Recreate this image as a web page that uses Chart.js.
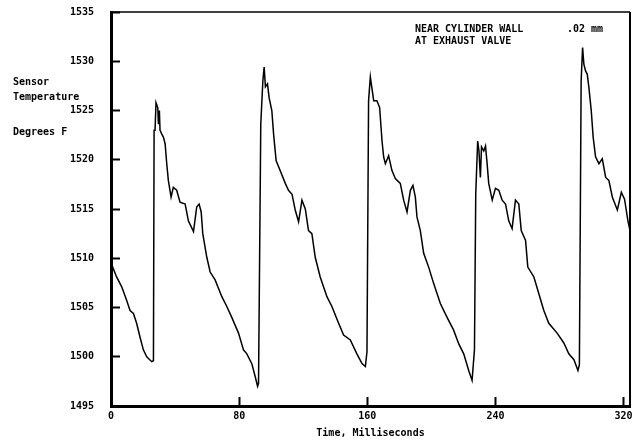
<!DOCTYPE html>
<html>
<head>
<meta charset="utf-8">
<script src="https://cdn.jsdelivr.net/npm/chart.js@4"></script>
<style>
  body { margin: 0; background: #fff; }
  #wrap { width: 632px; height: 443px; }
</style>
</head>
<body>
<div id="wrap"><canvas id="tempChart" width="632" height="443"></canvas></div>
<script>
// Tiempo (ms) y temperatura del sensor (°F)
const timeMs = [
  0.8, 3.5, 6.7, 9.8, 11.9, 14.0, 16.0, 18.1, 20.2, 22.3, 25.4, 26.5, 26.9, 27.5, 28.1, 29.2, 29.6, 30.2, 30.6,
  31.7, 32.7, 33.8, 34.8, 35.8, 37.5, 38.9, 41.0, 43.1, 46.3, 48.3, 51.5, 53.5, 55.0, 56.3, 57.3, 59.8, 61.9,
  65.0, 69.2, 72.3, 75.4, 79.6, 82.7, 84.8, 87.9, 90.0, 91.5, 92.1, 93.5, 94.8, 95.6, 96.4, 97.7, 98.7, 100.4,
  101.5, 103.1, 105.6, 108.8, 110.8, 113.0, 115.0, 117.1, 119.2, 121.3, 123.3, 125.4, 127.5, 130.6, 134.8,
  137.9, 142.1, 145.2, 149.4, 153.5, 156.7, 158.8, 159.8, 160.8, 161.9, 164.0, 166.0, 167.7, 169.2, 170.2,
  171.3, 173.3, 175.4, 177.5, 180.6, 182.7, 184.8, 186.9, 188.5, 190.0, 191.0, 193.1, 195.2, 198.3, 201.5,
  205.6, 209.8, 213.9, 217.1, 220.2, 223.3, 225.4, 226.9, 227.7, 228.9, 229.7, 230.6, 231.3, 232.7, 233.8,
  234.8, 235.8, 238.0, 240.0, 242.1, 244.2, 246.3, 248.3, 250.4, 252.5, 254.6, 256.1, 258.8, 260.2, 264.0,
  267.1, 270.2, 273.3, 278.5, 282.7, 285.8, 289.0, 291.5, 292.4, 293.5, 294.4, 295.2, 296.3, 297.3, 298.3,
  299.8, 301.0, 302.5, 304.6, 306.7, 308.8, 310.8, 313.0, 316.1, 318.6, 320.6, 322.7, 324.0
];
const sensorTempF = [
  1509.2, 1508.1, 1507.1, 1505.7, 1504.7, 1504.4, 1503.4, 1502.0, 1500.7, 1500.0, 1499.5, 1499.6, 1523.0, 1523.0, 1525.8, 1525.3, 1523.6, 1525.0, 1523.0,
  1522.6, 1522.3, 1521.6, 1519.6, 1517.9, 1516.2, 1517.2, 1516.9, 1515.7, 1515.5, 1513.8, 1512.7, 1515.2, 1515.5, 1514.7, 1512.5, 1510.1, 1508.6,
  1507.8, 1506.1, 1505.1, 1504.0, 1502.4, 1500.7, 1500.3, 1499.3, 1498.0, 1497.0, 1497.3, 1523.6, 1528.0, 1529.4, 1527.4, 1527.7, 1526.3, 1525.0,
  1522.6, 1519.9, 1518.9, 1517.6, 1516.9, 1516.5, 1514.9, 1513.7, 1515.9, 1515.0, 1512.8, 1512.5, 1510.1, 1508.1, 1506.1,
  1505.1, 1503.4, 1502.2, 1501.7, 1500.3, 1499.3, 1499.0, 1500.5, 1526.0, 1528.4, 1526.0, 1526.0, 1525.3, 1521.9, 1520.3,
  1519.6, 1520.4, 1518.9, 1518.1, 1517.6, 1515.9, 1514.7, 1516.9, 1517.4, 1516.2, 1514.2, 1512.8, 1510.5, 1509.1, 1507.4,
  1505.4, 1504.0, 1502.7, 1501.3, 1500.3, 1498.6, 1497.6, 1500.7, 1516.5, 1521.9, 1520.9, 1518.2, 1521.3, 1520.9, 1521.4,
  1519.6, 1517.6, 1515.9, 1517.1, 1516.9, 1515.9, 1515.5, 1513.8, 1513.0, 1515.9, 1515.5, 1512.8, 1511.8, 1509.1, 1508.1,
  1506.4, 1504.7, 1503.4, 1502.4, 1501.4, 1500.3, 1499.7, 1498.6, 1499.2, 1528.0, 1531.4, 1529.7, 1529.0, 1528.7, 1527.4,
  1525.0, 1522.3, 1520.3, 1519.6, 1520.1, 1518.2, 1517.9, 1516.2, 1514.9, 1516.7, 1516.0, 1513.8, 1512.8
];

const xTicks = [0, 80, 160, 240, 320];
const yTicks = [1495, 1500, 1505, 1510, 1515, 1520, 1525, 1530, 1535];

const monoFont = '"DejaVu Sans Mono", "Liberation Mono", monospace';

// textos sueltos y marco superior/derecho
const textosPlugin = {
    id: 'textos',
    afterDraw(chart) {
        const ctx = chart.ctx;
        const area = chart.chartArea;
        ctx.save();
        ctx.strokeStyle = '#000';
        ctx.lineWidth = 1.5;
        ctx.beginPath();
        ctx.moveTo(area.left, area.top);
        ctx.lineTo(area.right, area.top);
        ctx.stroke();
        ctx.lineWidth = 2;
        ctx.beginPath();
        ctx.moveTo(area.right, area.top);
        ctx.lineTo(area.right, area.bottom);
        ctx.stroke();

        ctx.fillStyle = '#000';
        ctx.font = 'bold 10px ' + monoFont;
        ctx.textBaseline = 'middle';
        ctx.textAlign = 'left';
        ctx.fillText('Sensor', 13, 82);
        ctx.fillText('Temperature', 13, 97);
        ctx.fillText('Degrees F', 13, 132);
        ctx.fillText('NEAR CYLINDER WALL', 415, 29);
        ctx.fillText('AT EXHAUST VALVE', 415, 41);
        ctx.fillText('.02 mm', 567, 29);
        ctx.restore();
    }
};

const tempChart = new Chart(document.getElementById('tempChart'), {
    type: 'line',
    data: {
        datasets: [{
            data: timeMs.map((t, i) => ({ x: t, y: sensorTempF[i] })),
            borderColor: '#000',
            borderWidth: 1.5,
            pointRadius: 0,
            tension: 0,
            fill: false,
        }]
    },
    options: {
        responsive: false,
        animation: false,
        layout: { padding: { top: 12, right: 2, left: 0, bottom: 0 } },
        plugins: {
            legend: { display: false },
            tooltip: { enabled: false }
        },
        scales: {
            x: {
                type: 'linear',
                min: 0,
                max: 324,
                afterFit: (scale) => {
                    scale.height = 37;
                    scale.paddingLeft = 0;
                    scale.paddingRight = 0;
                },
                afterBuildTicks: (scale) => { scale.ticks = xTicks.map(v => ({ value: v })); },
                border: { display: true, color: '#000', width: 3 },
                grid: { drawOnChartArea: false, drawTicks: true, tickLength: -9, tickWidth: 2, tickColor: '#000' },
                ticks: {
                    color: '#000',
                    padding: 13,
                    maxRotation: 0,
                    callback: (v) => String(v),
                    font: { family: monoFont, size: 10, weight: 'bold' }
                },
                title: {
                    display: true,
                    text: 'Time, Milliseconds',
                    color: '#000',
                    font: { family: monoFont, size: 10, weight: 'bold' },
                    padding: { top: 4, bottom: 4 }
                }
            },
            y: {
                min: 1495,
                max: 1535,
                afterFit: (scale) => {
                    scale.width = 111;
                    scale.paddingTop = 0;
                    scale.paddingBottom = 0;
                },
                afterBuildTicks: (scale) => { scale.ticks = yTicks.map(v => ({ value: v })); },
                border: { display: true, color: '#000', width: 3 },
                grid: { drawOnChartArea: false, drawTicks: true, tickLength: -9, tickWidth: 2, tickColor: '#000' },
                ticks: {
                    color: '#000',
                    padding: 26,
                    callback: (v) => String(v),
                    font: { family: monoFont, size: 10, weight: 'bold' }
                }
            }
        }
    },
    plugins: [textosPlugin]
});
</script>
</body>
</html>
